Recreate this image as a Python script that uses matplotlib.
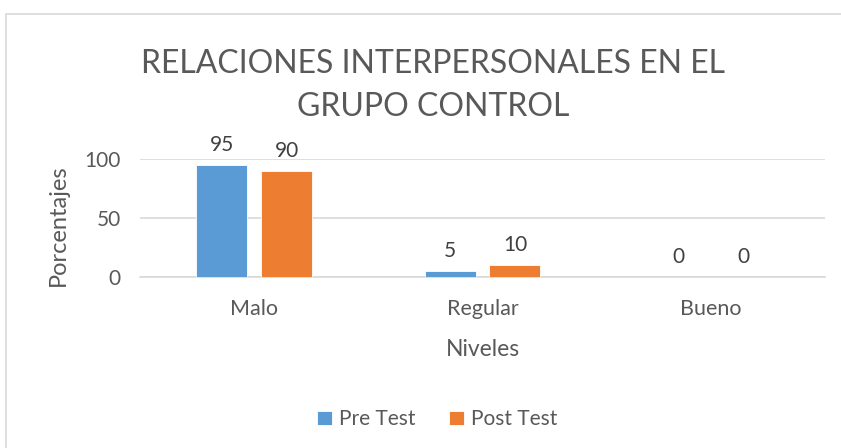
import matplotlib.pyplot as plt
import numpy as np
from matplotlib.patches import Rectangle

# ============================================
# Datos
# ============================================

niveles = ["Malo", "Regular", "Bueno"]
pre_test = [95, 5, 0]
post_test = [90, 10, 0]

titulo = "RELACIONES INTERPERSONALES EN EL\nGRUPO CONTROL"

azul = "#5B9BD5"
naranja = "#ED7D31"
gris_texto = "#595959"
gris_linea = "#D9D9D9"

plt.rcParams["font.family"] = ["Lato", "DejaVu Sans"]

# ============================================
# Figura
# ============================================

fig = plt.figure(figsize=(8.41, 4.48), dpi=100)
ax = fig.add_axes([0.1665, 0.3817, 0.981 - 0.1665, 0.645 - 0.3817])

# borde del gráfico
fig.patches.append(Rectangle((6 / 841, -0.05), 1.0, 1 - 14 / 448 + 0.05,
                             transform=fig.transFigure, fill=False,
                             edgecolor=gris_linea, linewidth=1.2))

x = np.arange(len(niveles))
ancho = 0.223
sep = 0.142

b1 = ax.bar(x - sep, pre_test, ancho, color=azul, edgecolor="white",
            linewidth=0.6, label="Pre Test", zorder=3)
b2 = ax.bar(x + sep, post_test, ancho, color=naranja, edgecolor="white",
            linewidth=0.6, label="Post Test", zorder=3)

for barras in (b1, b2):
    for b in barras:
        ax.annotate(f"{b.get_height():g}",
                    (b.get_x() + b.get_width() / 2, b.get_height()),
                    xytext=(0, 7), textcoords="offset points",
                    ha="center", va="bottom", fontsize=15, color="#404040")

ax.set_xlim(-0.5, 2.5)
ax.set_ylim(0, 100)
ax.set_yticks([0, 50, 100])
ax.set_xticks(x)
ax.set_xticklabels(niveles)

ax.grid(axis="y", color=gris_linea, linewidth=1.2, zorder=0)
for s in ["top", "right", "left"]:
    ax.spines[s].set_visible(False)
ax.spines["bottom"].set_color(gris_linea)
ax.spines["bottom"].set_linewidth(1.2)

ax.tick_params(axis="both", length=0, colors=gris_texto)
ax.tick_params(axis="x", pad=16, labelsize=15.5)
ax.tick_params(axis="y", pad=14, labelsize=15)

ax.set_xlabel("Niveles", fontsize=16.5, color=gris_texto, labelpad=14)
ax.set_ylabel("Porcentajes", fontsize=17, color=gris_texto)
ax.yaxis.set_label_coords(-0.104, 0.44)

fig.text(0.515, 0.81, titulo, ha="center", va="center", fontsize=23,
         color=gris_texto, linespacing=1.55)

fig.legend(handles=[b1, b2], loc="center", bbox_to_anchor=(0.52, 0.064),
           ncol=2, frameon=False, fontsize=15, labelcolor=gris_texto,
           handlelength=0.7, handleheight=0.7, handletextpad=0.35,
           columnspacing=1.6)

plt.savefig("out.png", dpi=100)
